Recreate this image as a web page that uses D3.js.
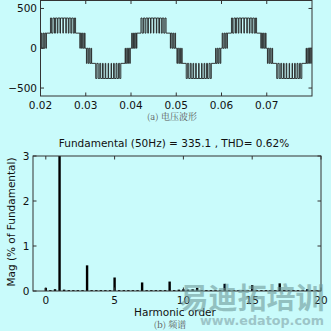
<!DOCTYPE html>
<html><head><meta charset="utf-8">
<script src="https://cdn.jsdelivr.net/npm/d3@7/dist/d3.min.js"></script>
<style>
html,body{margin:0;padding:0;background:#c9fbfb;}
svg{display:block;}
text{font-family:"DejaVu Sans",sans-serif;}
</style></head>
<body>
<script>
// ---------- Data: voltage waveform (a) ----------
// period start times (s)
const periodStarts = [0.02, 0.04, 0.06];
// switching instants within one period (ms) and the level (V) held after them
const switchTimesMs = [
  0, 0.15, 0.3, 0.55, 0.75, 0.95, 1.2, 1.3,
  2.2, 2.45, 2.75, 3.1, 3.3, 3.7, 3.85, 4.3, 4.42, 4.95, 5.05, 5.6, 5.7, 6.15, 6.3, 6.7, 6.9, 7.25, 7.5, 7.75,
  8.7, 8.8, 9.05, 9.25, 9.45, 9.7, 9.85,
  10, 10.15, 10.3, 10.55, 10.75, 10.95, 11.2, 11.3,
  12.2, 12.45, 12.75, 13.1, 13.3, 13.7, 13.85, 14.3, 14.42, 14.95, 15.05, 15.6, 15.7, 16.15, 16.3, 16.7, 16.9, 17.25, 17.5, 17.75,
  18.7, 18.8, 19.05, 19.25, 19.45, 19.7, 19.85
];
const switchLevels = [
  0, 190, 0, 190, 0, 190, 0, 190,
  380, 190, 380, 190, 380, 190, 380, 190, 380, 190, 380, 190, 380, 190, 380, 190, 380, 190, 380, 190,
  0, 190, 0, 190, 0, 190, 0,
  0, -190, 0, -190, 0, -190, 0, -190,
  -380, -190, -380, -190, -380, -190, -380, -190, -380, -190, -380, -190, -380, -190, -380, -190, -380, -190, -380, -190,
  0, -190, 0, -190, 0, -190, 0
];
const waveXTicks = [0.02, 0.03, 0.04, 0.05, 0.06, 0.07];
const waveYTicks = [-500, 0, 500];

// ---------- Data: spectrum (b) ----------
const harmonicOrders = [
  0, 0.33, 0.67, 1, 1.33, 1.67, 2, 2.33, 2.67, 3, 3.33, 3.67, 4, 4.33, 4.67, 5, 5.33, 5.67, 6, 6.33, 6.67,
  7, 7.33, 7.67, 8, 8.33, 8.67, 9, 9.33, 9.67, 10, 10.33, 10.67, 11, 11.33, 11.67, 12, 12.33, 12.67,
  13, 13.33, 13.67, 14, 14.33, 14.67, 15, 15.33, 15.67, 16, 16.33, 16.67, 17, 17.33, 17.67, 18, 18.33, 18.67,
  19, 19.33, 19.67, 20
];
const harmonicMags = [
  0.07, 0.02, 0.04, 100, 0.03, 0.02, 0.02, 0.02, 0.02, 0.57, 0.02, 0.02, 0.02, 0.02, 0.02, 0.30, 0.02, 0.02, 0.02, 0.02, 0.02,
  0.19, 0.02, 0.02, 0.02, 0.02, 0.02, 0.21, 0.02, 0.03, 0.04, 0.03, 0.04, 0.07, 0.02, 0.02, 0.02, 0.02, 0.02,
  0.16, 0.02, 0.02, 0.02, 0.02, 0.02, 0.13, 0.02, 0.02, 0.02, 0.02, 0.02, 0.17, 0.02, 0.02, 0.02, 0.02, 0.02,
  0.04, 0.02, 0.02, 0.02
];
const specXTicks = [0, 5, 10, 15, 20];
const specYTicks = [0, 1, 2, 3];
const specTitle = "Fundamental (50Hz) = 335.1 , THD= 0.62%";

const W = 331, H = 331;
const svg = d3.select("body").append("svg").attr("width", W).attr("height", H);
svg.append("rect").attr("width", W).attr("height", H).attr("fill", "#c9fbfb");

const axisColor = "#333";
const tickLen = 3.5;

function boxAxes(g, x, y, xt, yt, xfmt, yfmt) {
  const [x0, x1] = x.range(), [y0, y1] = y.range();
  g.append("rect").attr("x", x0).attr("y", y1).attr("width", x1 - x0).attr("height", y0 - y1)
    .attr("fill", "none").attr("stroke", axisColor).attr("stroke-width", 1);
  xt.forEach(v => {
    const px = x(v);
    g.append("line").attr("x1", px).attr("x2", px).attr("y1", y0).attr("y2", y0 - tickLen).attr("stroke", axisColor);
    g.append("line").attr("x1", px).attr("x2", px).attr("y1", y1).attr("y2", y1 + tickLen).attr("stroke", axisColor);
    g.append("text").attr("x", px).attr("y", y0 + 13).attr("text-anchor", "middle")
      .attr("font-size", 10.5).attr("fill", "#111").text(xfmt(v));
  });
  yt.forEach(v => {
    const py = y(v);
    g.append("line").attr("x1", x0).attr("x2", x0 + tickLen).attr("y1", py).attr("y2", py).attr("stroke", axisColor);
    g.append("line").attr("x1", x1).attr("x2", x1 - tickLen).attr("y1", py).attr("y2", py).attr("stroke", axisColor);
    g.append("text").attr("x", x0 - 3.5).attr("y", py + 3.8).attr("text-anchor", "end")
      .attr("font-size", 10.5).attr("fill", "#111").text(yfmt(v));
  });
}

// ---------- Plot (a) ----------
const xa = d3.scaleLinear().domain([0.02, 0.08]).range([40.5, 312]);
const ya = d3.scaleLinear().domain([-600, 600]).range([96, 0.5]);
const ga = svg.append("g");
ga.append("clipPath").attr("id", "clipA").append("rect")
  .attr("x", 40.5).attr("y", 0.5).attr("width", 312 - 40.5).attr("height", 95.5);
const wavePts = [];
periodStarts.forEach(p => {
  switchTimesMs.forEach((t, i) => wavePts.push([p + t / 1000, switchLevels[i]]));
});
wavePts.push([0.08, 0]);
const line = d3.line().x(d => xa(d[0])).y(d => ya(d[1])).curve(d3.curveStepAfter);
ga.append("path").attr("clip-path", "url(#clipA)").attr("d", line(wavePts))
  .attr("fill", "none").attr("stroke", "#222").attr("stroke-width", 0.9);
boxAxes(ga, xa, ya, waveXTicks, waveYTicks, d3.format(".2f"), d3.format("d"));
svg.append("text").attr("x", 172).attr("y", 120).attr("text-anchor", "middle")
  .attr("font-size", 9).attr("fill", "#555")
  .style("font-family", "'Noto Serif CJK SC','Noto Sans CJK SC',serif").text("(a) 电压波形");

// ---------- Plot (b) ----------
const xb = d3.scaleLinear().domain([-0.93, 20]).range([33, 321]);
const yb = d3.scaleLinear().domain([0, 3]).range([291, 156]);
const gb = svg.append("g");
gb.append("clipPath").attr("id", "clipB").append("rect")
  .attr("x", 33).attr("y", 156).attr("width", 288).attr("height", 135);
gb.append("g").attr("clip-path", "url(#clipB)").selectAll("rect").data(harmonicOrders).join("rect")
  .attr("x", d => xb(d) - 1.2).attr("width", 2.4)
  .attr("y", (d, i) => yb(Math.min(harmonicMags[i], 3.2)))
  .attr("height", (d, i) => yb(0) - yb(Math.min(harmonicMags[i], 3.2)))
  .attr("fill", "#000");
boxAxes(gb, xb, yb, specXTicks, specYTicks, d3.format("d"), d3.format("d"));
gb.append("text").attr("x", 174).attr("y", 147).attr("text-anchor", "middle")
  .attr("font-size", 10.5).attr("fill", "#111").text(specTitle);
gb.append("text").attr("x", 175).attr("y", 315.5).attr("text-anchor", "middle")
  .attr("font-size", 10.5).attr("fill", "#111").text("Harmonic order");
gb.append("text").attr("transform", "translate(14.5,222) rotate(-90)").attr("text-anchor", "middle")
  .attr("font-size", 10.5).attr("fill", "#111").text("Mag (% of Fundamental)");
svg.append("text").attr("x", 170).attr("y", 328).attr("text-anchor", "middle")
  .attr("font-size", 9).attr("fill", "#555")
  .style("font-family", "'Noto Serif CJK SC','Noto Sans CJK SC',serif").text("(b) 频谱");

// ---------- Watermark ----------
svg.append("text").attr("x", 252).attr("y", 309).attr("text-anchor", "middle")
  .attr("font-size", 29).attr("font-weight", "bold").attr("fill", "#6f9a9a").attr("opacity", 0.6)
  .style("font-family", "'Noto Sans CJK SC',sans-serif").text("易迪拓培训");
svg.append("text").attr("x", 200).attr("y", 325).attr("text-anchor", "start")
  .attr("font-size", 13).attr("font-weight", "bold").attr("fill", "#8fb4b8").attr("opacity", 0.75)
  .attr("textLength", 124).attr("lengthAdjust", "spacingAndGlyphs")
  .style("font-family", "'DejaVu Sans',sans-serif").text("www.edatop.com");
</script>
</body></html>
